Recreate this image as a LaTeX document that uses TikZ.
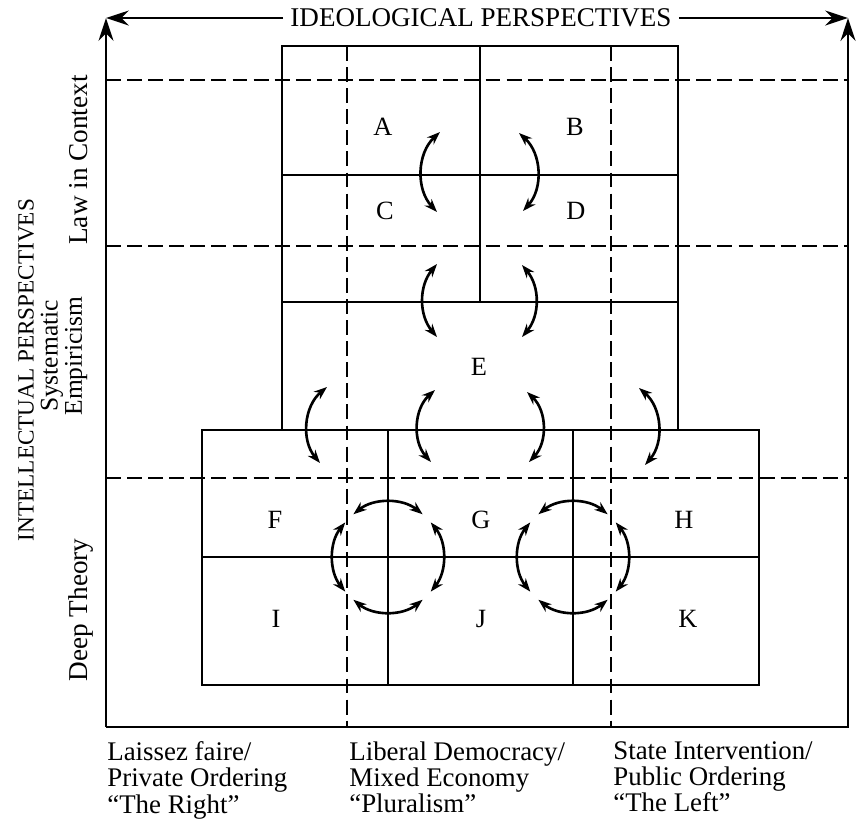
\documentclass[tikz,border=0pt]{standalone}
\usepackage{fontspec}
\setmainfont{Liberation Serif}
\usetikzlibrary{arrows.meta}

\begin{document}
\begin{tikzpicture}[x=0.02cm,y=-0.02cm,
  box/.style={line width=1.5pt},
  guide/.style={line width=1.4pt,dash pattern=on 8.5pt off 3.5pt},
  axis/.style={line width=1.6pt},
  axistip/.style={-{Stealth[length=13pt,width=8.5pt]}},
  swing/.style={line width=1.5pt,{Stealth[length=7.5pt,width=5.5pt]}-{Stealth[length=7.5pt,width=5.5pt]}},
  cell/.style={font=\fontsize{15}{15}\selectfont},
  side/.style={font=\fontsize{15.5}{16}\selectfont,rotate=90,inner sep=0pt}]
\useasboundingbox (0,0) rectangle (857,823);

% axes
\coordinate (ll) at (106,727);
\coordinate (lr) at (848,727);
\coordinate (ul) at (106,18);
\coordinate (ur) at (848,18);
\node[font=\fontsize{15.4}{16}\selectfont,inner sep=4pt] (ideo) at (481,18) {IDEOLOGICAL PERSPECTIVES};
\draw[axis,axistip] (ll) -- (ul);
\draw[axis,axistip] (ideo.west) -- (ul);
\draw[axis,axistip] (ideo.east) -- (ur);
\draw[axis,axistip] (ll) -- (lr) -- (ur);

% dashed grid
\foreach \y in {80,246,478} \draw[guide] (106,\y) -- (848,\y);
\foreach \x in {347,611} \draw[guide] (\x,46) -- (\x,727);

% upper block
\draw[box] (282,46) rectangle (678,430);
\draw[box] (480,46) -- (480,302);
\draw[box] (282,175) -- (678,175);
\draw[box] (282,302) -- (678,302);
% lower block
\draw[box] (202,430) rectangle (759,685);
\draw[box] (388,430) -- (388,685);
\draw[box] (573,430) -- (573,685);
\draw[box] (202,557) -- (759,557);

% cells
\node[cell] (A) at (383,127) {A};
\node[cell] (B) at (575,127) {B};
\node[cell] (C) at (385,211) {C};
\node[cell] (D) at (576,211) {D};
\node[cell] (E) at (479,367) {E};
\node[cell] (F) at (275,520) {F};
\node[cell] (G) at (481,520) {G};
\node[cell] (H) at (684,520) {H};
\node[cell] (I) at (276,619) {I};
\node[cell] (J) at (481,619) {J};
\node[cell] (K) at (688,619) {K};

% swings between cells
\coordinate (ac1) at (440,132); \coordinate (ac2) at (437,212);
\coordinate (bd1) at (519,133); \coordinate (bd2) at (523,211);
\coordinate (ce1) at (437,264); \coordinate (ce2) at (437,337);
\coordinate (de1) at (522,265); \coordinate (de2) at (522,337);
\coordinate (ef1) at (327,387); \coordinate (ef2) at (320,463);
\coordinate (eg1) at (435,390); \coordinate (eg2) at (431,462);
\coordinate (eg3) at (527,392); \coordinate (eg4) at (529,462);
\coordinate (eh1) at (639,388); \coordinate (eh2) at (645,465);
\draw[swing] (ac1) to[bend right=45] (ac2);
\draw[swing] (bd1) to[bend left=45] (bd2);
\draw[swing] (ce1) to[bend right=40] (ce2);
\draw[swing] (de1) to[bend left=40] (de2);
\draw[swing] (ef1) to[bend right=45] (ef2);
\draw[swing] (eg1) to[bend right=45] (eg2);
\draw[swing] (eg3) to[bend left=45] (eg4);
\draw[swing] (eh1) to[bend left=45] (eh2);

% rings
\coordinate (lc) at (388,557);
\coordinate (rc) at (573,557);
\foreach \a in {0,90,180,270} {
  \draw[swing] (lc) ++(\a-39:55) arc[start angle=\a-39,end angle=\a+39,radius=55];
  \draw[swing] (rc) ++(\a-39:55) arc[start angle=\a-39,end angle=\a+39,radius=55];
}

% side labels
\node[side,font=\fontsize{13.2}{14}\selectfont] (intel) at (26,370) {INTELLECTUAL PERSPECTIVES};
\node[side] (context) at (79,160) {Law in Context};
\node[side,align=center,font=\fontsize{14.5}{12.5}\selectfont] (empir) at (64,356) {Systematic\\Empiricism};
\node[side] (deep) at (81,610) {Deep Theory};

% bottom labels
\node[anchor=north west,align=left,inner sep=0pt,font=\fontsize{15.3}{15}\selectfont] (rightwing) at (107,741) {Laissez faire/\\Private Ordering\\``The Right''};
\node[anchor=north west,align=left,inner sep=0pt,font=\fontsize{15.3}{15}\selectfont] (centre) at (349,741) {Liberal Democracy/\\Mixed Economy\\``Pluralism''};
\node[anchor=north west,align=left,inner sep=0pt,font=\fontsize{15.3}{15}\selectfont] (leftwing) at (613,741) {State Intervention/\\Public Ordering\\``The Left''};
\end{tikzpicture}
\end{document}
